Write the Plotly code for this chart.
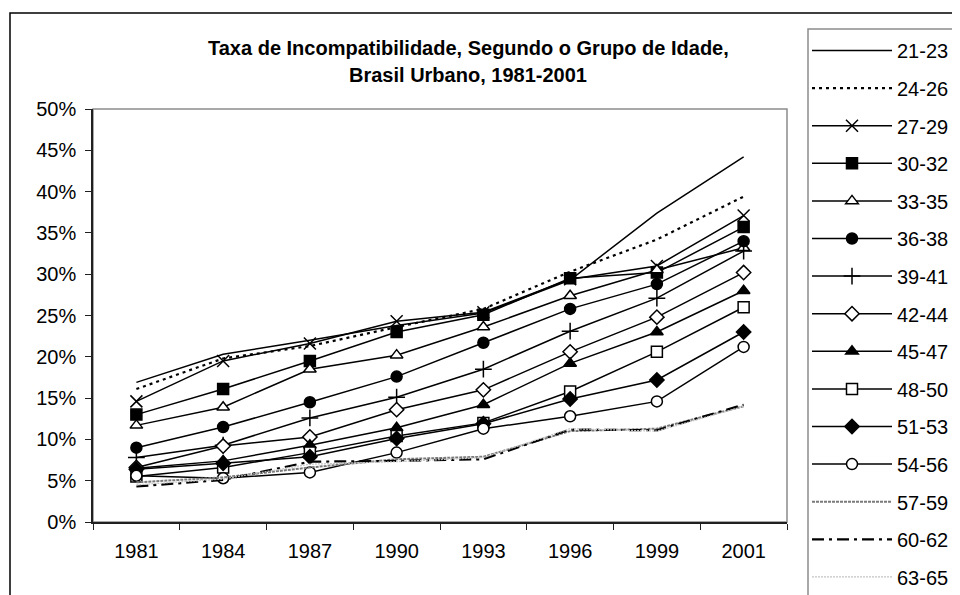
import plotly.graph_objects as go

years = ["1981", "1984", "1987", "1990", "1993", "1996", "1999", "2001"]

g21_23 = [16.9, 20.3, 22.0, 23.8, 25.3, 29.3, 37.4, 44.2]
g24_26 = [16.1, 19.8, 21.3, 23.6, 25.8, 30.3, 34.2, 39.4]
g27_29 = [14.6, 19.5, 21.6, 24.3, 25.4, 29.4, 31.0, 37.1]
g30_32 = [13.0, 16.1, 19.5, 23.0, 25.1, 29.5, 30.2, 35.7]
g33_35 = [11.7, 13.9, 18.5, 20.2, 23.6, 27.4, 30.5, 33.2]
g36_38 = [9.0, 11.5, 14.5, 17.6, 21.7, 25.8, 28.8, 34.0]
g39_41 = [7.8, 9.3, 12.6, 15.1, 18.5, 23.1, 27.1, 32.8]
g42_44 = [6.6, 9.2, 10.3, 13.6, 16.0, 20.6, 24.8, 30.2]
g45_47 = [6.5, 7.4, 9.3, 11.4, 14.2, 19.2, 23.0, 28.0]
g48_50 = [5.5, 6.6, 8.4, 10.4, 12.0, 15.8, 20.6, 26.0]
g51_53 = [6.4, 7.1, 7.9, 10.1, 11.9, 14.9, 17.2, 23.0]
g54_56 = [5.6, 5.3, 6.0, 8.4, 11.3, 12.8, 14.6, 21.2]
g57_59 = [4.8, 5.4, 6.6, 7.6, 7.9, 11.0, 11.3, 14.0]
g60_62 = [4.3, 5.1, 7.3, 7.4, 7.6, 11.2, 11.1, 14.2]
g63_65 = [4.5, 5.2, 7.0, 7.3, 7.8, 11.3, 11.0, 14.0]

series_names = ["21-23", "24-26", "27-29", "30-32", "33-35", "36-38", "39-41",
                "42-44", "45-47", "48-50", "51-53", "54-56", "57-59", "60-62", "63-65"]
series_values = [g21_23, g24_26, g27_29, g30_32, g33_35, g36_38, g39_41,
                 g42_44, g45_47, g48_50, g51_53, g54_56, g57_59, g60_62, g63_65]

# style per series: (line color, dash, width, marker symbol, marker fill, marker size)
styles = [
    ("black", "solid", 1.5, None, None, 0),
    ("black", "3px,4px", 2.2, None, None, 0),
    ("black", "solid", 1.5, "x-thin-open", "black", 12),
    ("black", "solid", 1.5, "square", "black", 11),
    ("black", "solid", 1.5, "triangle-up", "white", 11),
    ("black", "solid", 1.5, "circle", "black", 11),
    ("black", "solid", 1.5, "cross-thin-open", "black", 12),
    ("black", "solid", 1.5, "diamond", "white", 11),
    ("black", "solid", 1.5, "triangle-up", "black", 11),
    ("black", "solid", 1.5, "square", "white", 11),
    ("black", "solid", 1.5, "diamond", "black", 11),
    ("black", "solid", 1.5, "circle", "white", 11),
    ("#7a7a7a", "3px,1px", 2.0, None, None, 0),
    ("black", "12px,5px,3px,5px", 2.2, None, None, 0),
    ("#c4c4c4", "2px,1px", 1.2, None, None, 0),
]

fig = go.Figure()
for i, (name, vals, st) in enumerate(zip(series_names, series_values, styles)):
    color, dash, width, sym, fill, size = st
    if sym is None:
        fig.add_trace(go.Scatter(x=years, y=vals, name=name, mode="lines",
                                 legendgroup=name,
                                 line=dict(color=color, dash=dash, width=width)))
    else:
        fig.add_trace(go.Scatter(x=years, y=vals, name=name, mode="lines+markers",
                                 legendgroup=name,
                                 line=dict(color=color, dash=dash, width=width),
                                 marker=dict(symbol=sym, size=size, color=fill,
                                             line=dict(color="black", width=1.5))))

OFF = 8  # page body margin
W, H = 960, 595
L, R, T, B = 93 - OFF, 787 - OFF, 109 - OFF, 522 - OFF

def px(x):
    return (x - OFF - L) / (R - L)
def py(y):
    return (B - (y - OFF)) / (B - T)

font = "Arial, Liberation Sans, sans-serif"
FS = 20

fig.update_layout(
    width=W, height=H,
    margin=dict(l=L, r=W - R, t=T, b=H - B, autoexpand=False),
    paper_bgcolor="white", plot_bgcolor="white",
    font=dict(family=font, size=FS, color="black"),
    showlegend=True,
    legend=dict(x=px(807), y=py(31), xanchor="left", yanchor="top",
                font=dict(family=font, size=FS, color="black"),
                bgcolor="rgba(0,0,0,0)", borderwidth=0,
                tracegroupgap=8.6, itemwidth=80, traceorder="grouped",
                maxheight=700),
    xaxis=dict(type="category", range=[-0.5, 7.5], showgrid=False,
               showline=True, linecolor="#202020", linewidth=1.5,
               ticks="outside", tickson="boundaries", ticklen=6,
               tickcolor="#202020", tickfont=dict(size=FS, family=font),
               ticklabelstandoff=10, zeroline=False),
    yaxis=dict(range=[0, 50], dtick=5, ticksuffix="%", showgrid=False,
               showline=True, linecolor="#202020", linewidth=1.5,
               ticks="outside", ticklen=6, tickcolor="#202020",
               tickfont=dict(size=FS, family=font), ticklabelstandoff=5,
               zeroline=False),
    shapes=[
        dict(type="rect", xref="paper", yref="paper", x0=0, y0=0, x1=1, y1=1,
             line=dict(color="#8c8c8c", width=1.5), layer="below"),
        dict(type="rect", xref="paper", yref="paper", x0=px(10), y0=py(620),
             x1=px(985), y1=py(13), line=dict(color="black", width=1.5)),
        dict(type="rect", xref="paper", yref="paper", x0=px(808), y0=py(620),
             x1=px(985), y1=py(29), line=dict(color="#8c8c8c", width=1.5)),
    ],
    annotations=[
        dict(text="<b>Taxa de Incompatibilidade, Segundo o Grupo de Idade,</b>",
             xref="paper", yref="paper", x=px(468), y=py(48),
             xanchor="center", yanchor="middle", showarrow=False,
             font=dict(family=font, size=FS, color="black")),
        dict(text="<b>Brasil Urbano, 1981-2001</b>",
             xref="paper", yref="paper", x=px(468), y=py(75),
             xanchor="center", yanchor="middle", showarrow=False,
             font=dict(family=font, size=FS, color="black")),
    ],
)

fig.write_html("out.html")
